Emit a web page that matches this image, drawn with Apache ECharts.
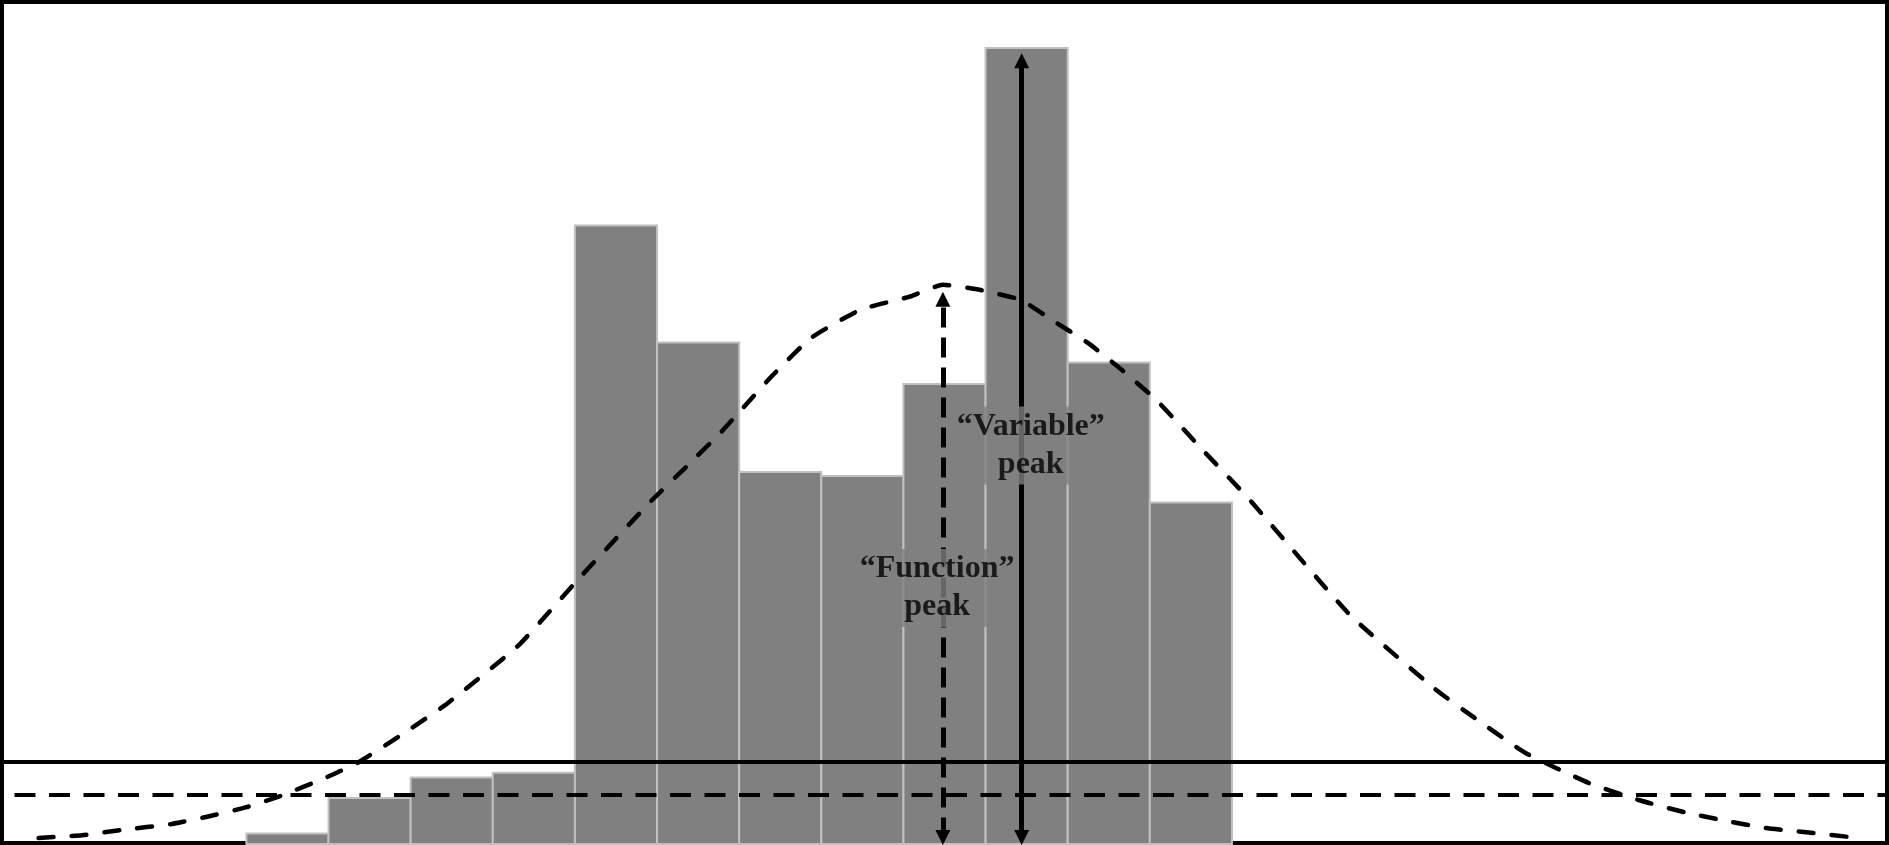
<!DOCTYPE html>
<html>
<head>
<meta charset="utf-8">
<script src="https://cdn.jsdelivr.net/npm/echarts@6/dist/echarts.min.js"></script>
<style>
html,body{margin:0;padding:0;background:#fff;}
#chart{width:1889px;height:845px;}
</style>
</head>
<body>
<div id="chart"></div>
<script>
// ---- data ----
const binStarts = [0, 1, 2, 3, 4, 5, 6, 7, 8, 9, 10, 11];
const binCounts = [1.3, 5.75, 8.3, 8.9, 77.3, 62.7, 46.5, 46.0, 57.5, 99.5, 60.2, 42.7];

const curveX = [-2.53, -2.0, -1.52, -0.91, -0.48, 0.0, 0.44, 0.99, 1.37, 1.94, 2.45, 3.32, 4.05, 4.94, 5.40, 5.79, 6.39, 6.88, 7.48, 8.07, 8.48, 8.94, 9.43, 9.81, 10.25, 10.62, 11.08, 11.62, 12.20, 13.43, 14.47, 14.99, 15.57, 16.35, 16.95, 17.54, 18.09, 18.50, 19.05, 19.50];
const curveY = [0.75, 1.1, 1.75, 2.5, 3.4, 4.6, 6.1, 8.4, 10.25, 14.0, 17.6, 24.9, 33.2, 43.0, 47.6, 51.6, 58.4, 63.3, 66.8, 68.4, 69.9, 69.25, 68.0, 65.5, 62.6, 59.6, 55.5, 49.5, 43.2, 28.7, 19.4, 15.5, 11.4, 7.6, 5.5, 3.9, 2.75, 2.0, 1.4, 0.9];

const solidLevel = 10.3;
const dashedLevel = 6.2;

const arrowBase = 0.81;
const functionPeak = [8.48, 68.1];
const variablePeak = [9.44, 97.9];

const labelTexts = ['\u201CVariable\u201D\npeak', '\u201CFunction\u201D\npeak'];
const labelAnchors = [[9.55, 49.8], [8.41, 32.0]];

// ---- chart ----
const chart = echarts.init(document.getElementById('chart'), null, {renderer: 'canvas'});

const barData = binStarts.map((s, i) => [s, binCounts[i]]);
const curveData = curveX.map((x, i) => [x, curveY[i]]);
const labelData = labelAnchors.map((p, i) => ({value: [p[0], p[1]], name: labelTexts[i]}));

const option = {
  animation: false,
  backgroundColor: '#ffffff',
  grid: {left: -2, right: 0, top: 0, bottom: 0, containLabel: false},
  xAxis: {type: 'value', min: -3, max: 20, show: false},
  yAxis: {type: 'value', min: -0.125, max: 105.5, show: false},
  graphic: [{
    type: 'rect', z: 0, silent: true,
    shape: {x: 2, y: 2, width: 1885, height: 841},
    style: {fill: null, stroke: '#000', lineWidth: 4}
  }],
  series: [
    {
      type: 'custom',
      z: 2,
      data: barData,
      encode: {x: 0, y: 1},
      renderItem: function (params, api) {
        const x0 = api.value(0), v = api.value(1);
        const p0 = api.coord([x0, v]);
        const p1 = api.coord([x0 + 1, 0]);
        return {
          type: 'rect',
          shape: {x: p0[0], y: p0[1], width: p1[0] - p0[0], height: p1[1] - p0[1]},
          style: {fill: '#808080', stroke: '#c0c0c0', lineWidth: 2}
        };
      }
    },
    {
      type: 'line',
      z: 4,
      data: [],
      markLine: {
        silent: true,
        symbol: ['none', 'none'],
        label: {show: false},
        data: [
          {yAxis: solidLevel, lineStyle: {color: '#000', width: 4, type: 'solid'}},
          {yAxis: dashedLevel, lineStyle: {color: '#000', width: 4, type: [21, 13.5], dashOffset: 20}}
        ]
      }
    },
    {
      type: 'line',
      z: 5,
      data: curveData,
      smooth: 0.15,
      showSymbol: false,
      symbol: 'none',
      lineStyle: {color: '#000', width: 4.5, type: [15, 18], cap: 'round'}
    },
    {
      type: 'line',
      z: 6,
      data: [],
      markLine: {
        silent: true,
        symbol: ['triangle', 'triangle'],
        symbolSize: [15, 15],
        label: {show: false},
        data: [
          [{coord: [functionPeak[0], arrowBase], lineStyle: {color: '#000', width: 5, type: [20, 10]}, itemStyle: {color: '#000'}},
           {coord: [functionPeak[0], functionPeak[1]]}],
          [{coord: [variablePeak[0], arrowBase], lineStyle: {color: '#000', width: 5, type: 'solid'}, itemStyle: {color: '#000'}},
           {coord: [variablePeak[0], variablePeak[1]]}]
        ]
      }
    },
    {
      type: 'scatter',
      z: 10,
      symbolSize: 1,
      itemStyle: {color: 'rgba(0,0,0,0)'},
      data: labelData,
      label: {
        show: true,
        position: 'inside',
        formatter: function (p) { return p.name; },
        fontFamily: '"Liberation Serif", "Times New Roman", serif',
        fontWeight: 'bold',
        fontSize: 32,
        lineHeight: 38,
        color: '#000',
        align: 'center',
        verticalAlign: 'middle',
        backgroundColor: '#808080',
        padding: [1, 2]
      }
    }
  ]
};
chart.setOption(option);
</script>
</body>
</html>
